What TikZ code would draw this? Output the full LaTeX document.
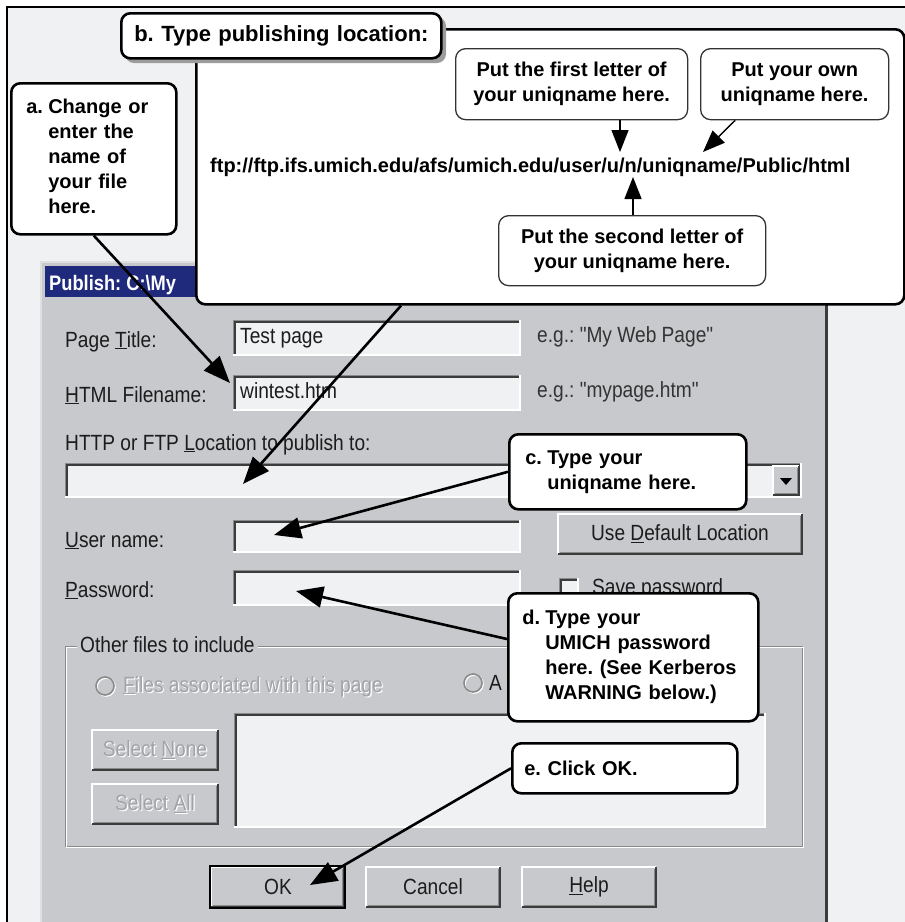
\documentclass[tikz,border=0pt]{standalone}
\usepackage{fontspec}
\setmainfont{Liberation Sans}
\newfontfamily\dlgfont[FakeStretch=0.87]{Liberation Sans}
\usetikzlibrary{arrows.meta,calc}
\frenchspacing
\definecolor{bgc}{HTML}{F0F1F3}
\definecolor{dlg}{HTML}{C8C9CC}
\definecolor{fld}{HTML}{F0F1F3}
\definecolor{ttl}{HTML}{1F2A7C}
\definecolor{dk}{HTML}{3C3C3C}
\definecolor{dktwo}{HTML}{333333}
\definecolor{md}{HTML}{8A8A8A}
\definecolor{shd}{HTML}{9C9C9C}
\definecolor{txt}{HTML}{1C1C1C}
\definecolor{dis}{HTML}{A2A3A6}
\definecolor{edge}{HTML}{DEDFE1}
\newcommand{\sunkfield}[4]{%
  \fill[fld] (#1,#2) rectangle (#3,#4);
  \draw[md, line width=1pt] (#1,#4) -- (#1,#2) -- (#3,#2);
  \draw[dk, line width=1.6pt] (#1+1.8,#4-1) -- (#1+1.8,#2+1.8) -- (#3-1,#2+1.8);
  \draw[white, line width=1.2pt] (#1,#4) -- (#3,#4) -- (#3,#2);
}
\newcommand{\raisedbtn}[4]{%
  \fill[dlg] (#1,#2) rectangle (#3,#4);
  \draw[white, line width=1.2pt] (#1,#4) -- (#1,#2) -- (#3,#2);
  \draw[dk, line width=1.6pt] (#1,#4) -- (#3,#4) -- (#3,#2);
  \draw[md, line width=1pt] (#1+1.5,#4-2) -- (#3-2,#4-2) -- (#3-2,#2+1.5);
}
\newcommand{\dimtext}[1]{\makebox[0pt][l]{\raisebox{-1.2pt}{\hspace*{1.2pt}\textcolor{white}{#1}}}\textcolor{dis}{#1}}
\begin{document}
\begin{tikzpicture}[x=1pt,y=-1pt,
  lbl/.style={font=\dlgfont\fontsize{22}{26}\selectfont, text=txt, inner sep=0pt, anchor=base west},
  callout/.style={draw, line width=2.6pt, fill=white, rounded corners=9pt, anchor=north west, align=left, inner ysep=0pt, font=\bfseries\fontsize{20}{25}\selectfont},
  inbox/.style={draw=dktwo, line width=1.3pt, fill=white, rounded corners=10pt, anchor=north west, align=center, inner sep=0pt, font=\bfseries\fontsize{20}{25}\selectfont},
  bigarrow/.style={line width=2.6pt, -{Triangle[length=27pt,width=21pt]}},
  smallarrow/.style={line width=1.4pt, -{Triangle[length=22pt,width=17pt]}}
]
\useasboundingbox (0,0) rectangle (905,922);
\clip (0,0) rectangle (905,922);
% background and frame
\fill[white] (0,0) rectangle (905,922);
\fill[bgc] (7,7) rectangle (905,922);
\draw[black, line width=2pt] (7,922) -- (7,7) -- (905,7);
% dialog
\fill[dlg] (40,261) rectangle (826,922);
\draw[edge, line width=2pt] (41,922) -- (41,262) -- (826,262);
\draw[dk, line width=3pt] (826,262) -- (826,922);
\fill[ttl] (45,266) rectangle (822,297);
\node[font=\dlgfont\bfseries\fontsize{21}{24}\selectfont, text=white, anchor=base west, inner sep=0pt] (ttltxt) at (49,290) {Publish: C:\textbackslash My};
% labels
\node[lbl] (lpt) at (65,347) {Page \underline{T}itle:};
\node[lbl] (lhf) at (65,402) {\underline{H}TML Filename:};
\node[lbl] (lloc) at (65,450) {HTTP or FTP \underline{L}ocation to publish to:};
\node[lbl] (lun) at (65,547) {\underline{U}ser name:};
\node[lbl] (lpw) at (65,597) {\underline{P}assword:};
\node[lbl, text=dktwo] (eg1) at (537,342) {e.g.: "My Web Page"};
\node[lbl, text=dktwo] (eg2) at (537,397) {e.g.: "mypage.htm"};
% fields
\sunkfield{233}{320}{520}{355}
\node[lbl] (tp) at (240,343) {Test page};
\sunkfield{233}{375}{520}{410}
\node[lbl] (wt) at (240,398) {wintest.htm};
\sunkfield{65}{463}{801}{497}
\raisedbtn{773}{466}{799}{495}
\fill[black] (780,478) -- (792,478) -- (786,485) -- cycle;
\sunkfield{233}{520}{520}{552}
\sunkfield{233}{570}{520}{605}
\raisedbtn{558}{514}{802}{554}
\node[lbl, anchor=center] (udl) at (680,534) {Use \underline{D}efault Location};
\sunkfield{559}{578}{578}{597}
\node[lbl] (svp) at (592,594) {Save password};
% group box
\draw[md, line width=1pt] (65,646) rectangle (802,846);
\draw[white, line width=1pt] (66.5,647.5) rectangle (803.5,847.5);
\node[lbl, fill=dlg, inner xsep=3pt] (grp) at (77,652) {Other files to include};
\draw[white, line width=1.6pt] (106,687) circle (9pt);
\draw[md, line width=1.6pt] (105,686) circle (9pt);
\node[lbl] (rf) at (123,692) {\dimtext{\underline{F}iles associated with this page}};
\draw[white, line width=1.6pt] (474,684) circle (9pt);
\draw[md, line width=1.6pt] (473,683) circle (9pt);
\node[lbl] (ra) at (489,690) {A};
\sunkfield{234}{713}{765}{827}
\raisedbtn{92}{730}{218}{770}
\node[lbl, anchor=center] (sn) at (155,750) {\dimtext{Select \underline{N}one}};
\raisedbtn{92}{784}{218}{824}
\node[lbl, anchor=center] (sa) at (155,804) {\dimtext{Select \underline{A}ll}};
% bottom buttons
\raisedbtn{211}{867}{344}{907}
\draw[black, line width=1.2pt] (210,866) rectangle (345,908);
\node[lbl, anchor=center] (okb) at (278,887) {OK};
\raisedbtn{366}{867}{500}{907}
\node[lbl, anchor=center] (cnb) at (433,887) {Cancel};
\raisedbtn{522}{867}{656}{907}
\node[lbl, anchor=center] (hlb) at (589,887) {\underline{H}elp};
% callout b
\node[draw, line width=2.6pt, fill=white, rounded corners=9pt, minimum width=708pt, minimum height=275pt, anchor=north west, inner sep=0pt] (bb) at (195,28) {};
\fill[shd, rounded corners=9pt] (125,17) rectangle (446,63);
\node[callout, text width=294pt, inner xsep=13pt, minimum width=320pt, minimum height=45pt, font=\bfseries\fontsize{22}{26}\selectfont] (tb) at (120,12) {\mbox{\makebox[27pt][l]{b.}Type publishing location:}};
\node[inbox, minimum width=232pt, minimum height=71pt] (f1) at (455,48) {Put the first letter of\\your uniqname here.};
\node[inbox, minimum width=188pt, minimum height=71pt] (f2) at (700,48) {Put your own\\uniqname here.};
\node[inbox, minimum width=267pt, minimum height=70pt] (f3) at (498,215) {Put the second letter of\\your uniqname here.};
\node[font=\bfseries\fontsize{20}{24}\selectfont, anchor=base west, inner sep=0pt] (url) at (210,172) {ftp://ftp.ifs.umich.edu/afs/umich.edu/user/u/n/uniqname/Public/html};
\coordinate (t1) at (620,152);
\coordinate (t2) at (703,152);
\coordinate (t3) at (633,177);
\draw[smallarrow] (f1.south -| t1) -- (t1);
\draw[smallarrow] ($(f2.south west)!0.186!(f2.south east)$) -- (t2);
\draw[smallarrow] (f3.north -| t3) -- (t3);
% callouts
\node[callout, text width=135pt, inner xsep=15pt, minimum width=165pt, minimum height=151pt] (ca) at (10,82) {\begin{tabular}{@{}l@{}l@{}}\makebox[22pt][l]{a.}&Change or\\&enter the\\&name of\\&your file\\&here.\end{tabular}};
\node[callout, text width=205pt, inner xsep=16pt, minimum width=237pt, minimum height=75pt] (cc) at (508,433) {\begin{tabular}{@{}l@{}l@{}}\makebox[22pt][l]{c.}&Type your\\&uniqname here.\end{tabular}};
\node[callout, text width=222pt, inner xsep=14pt, minimum width=250pt, minimum height=128pt] (cd) at (507,592) {\begin{tabular}{@{}l@{}l@{}}\makebox[23pt][l]{d.}&Type your\\&UMICH password\\&here. (See Kerberos\\&WARNING below.)\end{tabular}};
\node[callout, text width=201pt, inner xsep=12pt, minimum width=225pt, minimum height=50pt] (ce) at (511,742) {\mbox{e. Click OK.}};
% arrows
\coordinate (ta) at (230,383);
\coordinate (tbb) at (243,484);
\coordinate (tc) at (274,535);
\coordinate (td) at (296,591);
\coordinate (te) at (310,885);
\draw[bigarrow] (ca.south) -- (ta);
\draw[bigarrow] ($(bb.south west)!0.29!(bb.south east)$) -- (tbb);
\draw[bigarrow] (cc.west) -- (tc);
\draw[bigarrow] ($(cd.north west)!0.36!(cd.south west)$) -- (td);
\draw[bigarrow] (ce.west) -- (te);
\end{tikzpicture}
\end{document}
